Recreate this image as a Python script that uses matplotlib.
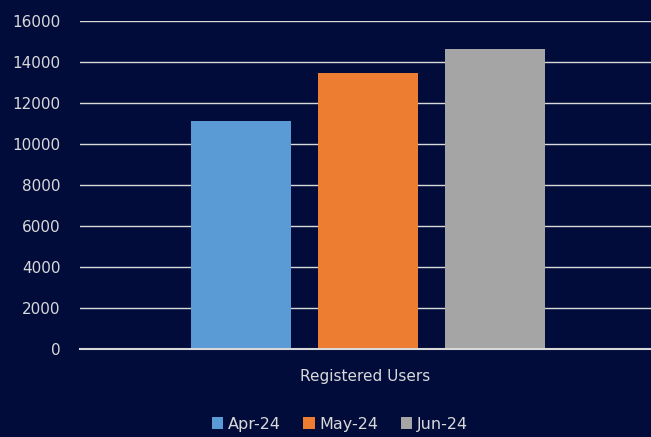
import matplotlib.pyplot as plt
import numpy as np

#%% Data
months = ["Apr-24", "May-24", "Jun-24"]
users = [11150, 13500, 14630]
category = "Registered Users"
colors = ["#5B9BD5", "#ED7D31", "#A5A5A5"]

bg = "#010C3B"
txt = "#D9D9D9"

#%% Plot
fig = plt.figure(figsize=(6.51, 4.37), dpi=100, facecolor=bg)
ax = fig.add_axes([80/651, 1-349.3/437, 571/651, 328/437], facecolor=bg)

width = 0.175
offsets = np.array([-0.222, 0.0, 0.222]) + 0.004
for i, (m, v) in enumerate(zip(months, users)):
    ax.bar(offsets[i], v, width=width, color=colors[i], label=m, zorder=3)

ax.set_xlim(-0.5, 0.5)
ax.set_ylim(0, 16000)
ax.set_yticks(np.arange(0, 16001, 2000))
ax.yaxis.grid(True, color=txt, linewidth=1.0, zorder=0)
ax.axhline(0, color=txt, linewidth=1.5, zorder=4, clip_on=False)
ax.set_xticks([0])
ax.set_xticklabels([category])
ax.tick_params(axis="both", length=0, colors=txt, labelsize=11)
ax.tick_params(axis="y", pad=14)
ax.tick_params(axis="x", pad=14)
for s in ax.spines.values():
    s.set_visible(False)

ax.legend(loc="center", bbox_to_anchor=(340/651, 1-424/437), bbox_transform=fig.transFigure,
          ncol=3, frameon=False, fontsize=11.5, labelcolor=txt, handlelength=0.7,
          handleheight=0.7, handletextpad=0.3, columnspacing=1.4)

fig.savefig("out.png", dpi=100, facecolor=bg)
